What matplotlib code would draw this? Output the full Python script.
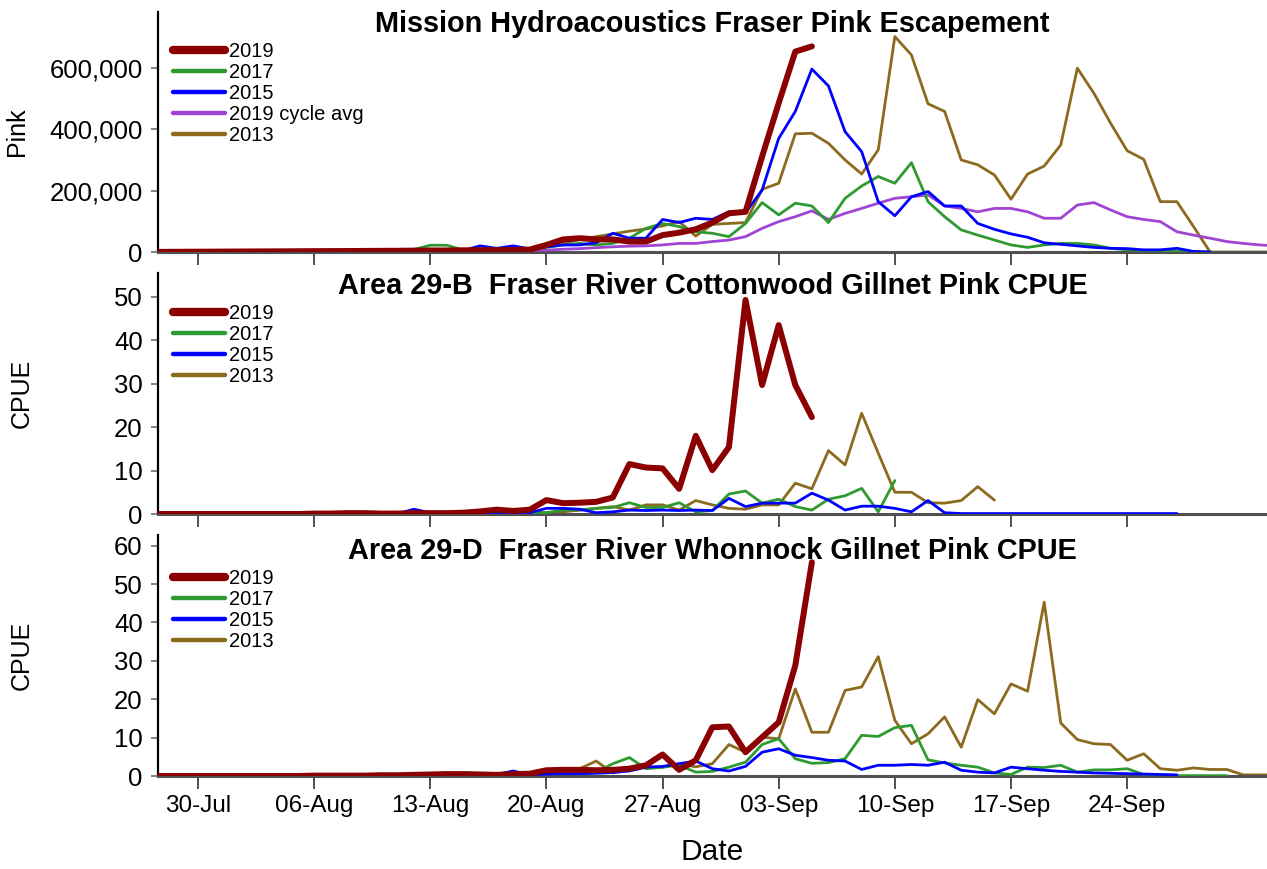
import numpy as np
import matplotlib
matplotlib.use("Agg")
import matplotlib.pyplot as plt
import matplotlib.dates as mdates
from matplotlib.lines import Line2D
from matplotlib.ticker import FuncFormatter, MultipleLocator

plt.rcParams['font.family'] = ['Liberation Sans', 'DejaVu Sans']

# ---------------- data (daily values, one list per series, with start date) -------------
# Panel 1: Mission hydroacoustics escapement (fish)
esc_2019_start = '2019-07-27'
esc_2019 = [0, 500, 800, 1000, 1200,
            1500, 1800, 2000, 2200, 2500, 2800, 3000, 3200, 3500, 3800, 4000, 4500, 5000,
            5000, 5500, 6000, 6000, 6500, 8000, 23000, 41000, 45000, 41000, 41000, 34000,
            34000, 55000, 63000, 74000, 96000, 126000,
            131000, 311000, 485000, 653000, 670000]
esc_2017_start = '2019-07-27'
esc_2017 = [1000, 1000, 1500, 1500, 2000,
            2000, 2500, 2500, 3000, 3000, 3500, 4000, 4000, 4500, 5000, 5000,
            8000, 22000, 22000, 6000, 5000, 6000, 7000, 8000, 15000, 23000, 28000, 23000,
            28000, 45000, 77000, 93000, 83000, 66000, 61000, 50000,
            93000, 161000, 121000, 159000, 150000, 96000, 175000, 215000, 246000, 224000,
            291000, 164000, 115000, 72000, 55000, 39000, 23000, 15000, 23000, 28000, 28000,
            23000, 12000, 7000, 5000, 3000, 2000, 1000, 0]
esc_2015_start = '2019-07-27'
esc_2015 = [0, 0, 500, 500, 1000,
            1000, 1000, 1500, 1500, 2000, 2000, 2000, 2500, 2500, 3000, 3000, 3000, 3500,
            4000, 5000,
            20000, 12000, 20000, 10000, 17000, 23000, 23000, 30000, 61000, 45000, 45000,
            106000, 96000, 110000, 106000, 131000,
            128000, 202000, 370000, 458000, 596000, 541000, 392000, 327000, 164000, 118000,
            180000, 197000, 150000, 150000, 93000, 74000, 59000, 48000, 30000, 25000, 20000,
            15000, 12000, 11000, 7000, 7000, 12000, 2000, 0]
esc_avg_start = '2019-07-27'
esc_avg = [0, 0, 0, 500, 500,
           500, 500, 800, 800, 1000, 1000, 1200, 1200, 1500, 1500, 1800, 2000, 2000, 2500,
           2500,
           3000, 4000, 5000, 5000, 6000, 9000, 11000, 14000, 17000, 19000, 20000, 23000,
           28000, 28000, 34000, 39000,
           50000, 77000, 99000, 115000, 134000, 106000, 126000, 142000, 159000, 175000,
           180000, 186000, 150000, 142000, 131000, 142000, 142000, 131000, 110000, 110000,
           153000, 161000, 137000, 115000, 106000, 99000, 66000, 55000, 45000, 34000,
           28000, 23000, 20000]
esc_2013_start = '2019-07-27'
esc_2013 = [0, 0, 500, 500, 500,
            1000, 1000, 1000, 1500, 1500, 1500, 2000, 2000, 2000, 2500, 2500, 3000, 3000,
            3000, 3500, 4000, 4500, 5000,
            8000, 17000, 28000, 41000, 50000, 59000, 68000, 75000, 85000, 99000, 52000,
            90000, 93000,
            96000, 204000, 224000, 385000, 387000, 354000, 300000, 254000, 333000, 702000,
            642000, 483000, 458000, 300000, 284000, 251000, 172000, 254000, 280000, 349000,
            599000, 517000, 420000, 330000, 302000, 164000, 164000, 83000, 0, 0,
            0, 0, 0]

# Panel 2: Area 29-B Cottonwood gillnet CPUE
cot_2019_start = '2019-07-27'
cot_2019 = [0, 0, 0, 0, 0,
            0, 0, 0, 0, 0, 0.1, 0.1, 0.2, 0.2, 0.1, 0.1, 0.2, 0.2, 0.2,
            0.3, 0.6, 1.0, 0.7, 1.0, 3.2, 2.5, 2.6, 2.8, 3.8, 11.5, 10.7, 10.5, 5.8, 18.0,
            10.1, 15.4,
            49.3, 29.7, 43.5, 29.7, 22.3]
cot_2017_start = '2019-08-17'
cot_2017 = [0, 0.2, 0.3, 0.3, 0.9, 0.9, 1.3, 1.5, 2.6, 1.5, 1.5, 2.6, 0.5, 0.8, 4.6,
            5.3, 2.5, 3.4, 1.7, 0.9, 3.4, 4.2, 5.9, 0.5, 7.7]
cot_2015_start = '2019-07-27'
cot_2015 = [0, 0, 0, 0, 0,
            0, 0, 0, 0, 0, 0, 0, 0, 0, 0, 0,
            1.1, 0.3, 0.1, 0.1, 0.2, 0.2, 0.3, 0.3, 1.3, 1.3, 1.1, 0.3, 0.5, 0.9, 0.8, 0.9,
            0.8, 0.9, 0.8, 3.6,
            1.7, 2.5, 2.5, 2.5, 4.8, 3.2, 0.9, 1.8, 1.8, 1.3, 0.5, 3.1, 0.3,
            0.1, 0.1, 0.1, 0.1, 0.1, 0.1, 0.1, 0.1, 0.1, 0.1, 0.1, 0.1, 0.1, 0.1]
cot_2013_start = '2019-08-19'
cot_2013 = [0.3, 0.3, 0.5, 0.9, 1.3, 1.7, 0.9, 2.1, 2.1, 0.9, 3.1, 2.1, 1.3,
            1.1, 2.1, 2.1, 7.1, 5.8, 14.6, 11.3, 23.2, 14.0, 5.0, 5.0, 2.6, 2.5, 3.1, 6.3, 3.2]

# Panel 3: Area 29-D Whonnock gillnet CPUE
who_2019_start = '2019-07-27'
who_2019 = [0, 0, 0, 0, 0,
            0, 0, 0, 0, 0, 0.1, 0.1, 0.1, 0.1, 0.2, 0.2, 0.3,
            0.4, 0.5, 0.5, 0.4, 0.3, 0.5, 0.6, 1.5, 1.6, 1.6, 1.5, 1.6, 1.9, 2.8, 5.6, 1.6,
            4.1, 12.7, 12.9,
            6.2, 10.1, 14.0, 28.8, 55.7]
who_2017_start = '2019-08-17'
who_2017 = [0, 0.3, 0.5, 0.6, 0.6, 0.8, 1.0, 3.2, 4.8, 1.9, 2.3, 2.8, 1.0, 1.2, 2.3,
            3.6, 8.2, 9.7, 4.5, 3.3, 3.5, 4.5, 10.6, 10.3, 12.6, 13.2, 4.2, 3.4, 2.8, 2.3,
            0.8, 0.4, 2.3, 2.2, 2.8, 1.0, 1.6, 1.6, 1.9, 0.4, 0.2, 0.1, 0.1, 0.1, 0.1]
who_2015_start = '2019-07-27'
who_2015 = [0, 0, 0, 0, 0,
            0, 0, 0, 0, 0, 0, 0.1, 0.1, 0.1, 0.1, 0.2, 0.2, 0.2, 0.3, 0.3, 0.3, 0.4,
            1.3, 0.3, 0.5, 0.6, 0.6, 0.7, 0.9, 1.3, 2.3, 2.5, 3.2, 3.9, 1.9, 1.3,
            2.5, 6.2, 7.1, 5.4, 4.8, 4.1, 3.9, 1.7, 2.8, 2.8, 3.0, 2.8, 3.6, 1.5, 1.0, 0.8,
            2.3, 1.9, 1.5, 1.2, 1.0, 0.8, 0.7, 0.6, 0.5, 0.4, 0.3]
who_2013_start = '2019-08-19'
who_2013 = [0.3, 0.8, 1.2, 1.9, 3.9, 0.8, 1.9, 2.3, 2.3, 3.2, 2.4, 3.2, 8.2,
            6.2, 10.1, 9.7, 22.7, 11.4, 11.4, 22.3, 23.2, 31.1, 14.5, 8.4, 11.0, 15.4, 7.5,
            19.9, 16.2, 24.0, 22.1, 45.3, 13.8, 9.5, 8.4, 8.2, 4.1, 5.8, 1.9, 1.5, 2.1, 1.7,
            1.7, 0.3, 0.3, 0.3]

titles = ["Mission Hydroacoustics Fraser Pink Escapement",
          "Area 29-B  Fraser River Cottonwood Gillnet Pink CPUE",
          "Area 29-D  Fraser River Whonnock Gillnet Pink CPUE"]
ylabels = ["Pink", "CPUE", "CPUE"]
tick_dates = ['2019-07-30', '2019-08-06', '2019-08-13', '2019-08-20', '2019-08-27',
              '2019-09-03', '2019-09-10', '2019-09-17', '2019-09-24']

# ---------------- style ----------------
C2019 = '#8B0000'
C2017 = '#2E9A30'
C2015 = '#0000FF'
CAVG = '#A044D4'
C2013 = '#8C6A1E'

def dates_for(start, vals):
    return np.datetime64(start) + np.arange(len(vals)).astype('timedelta64[D]')

W, H = 1267, 869
fig = plt.figure(figsize=(W / 100, H / 100), dpi=100)

def add_ax(top_px, bottom_px):
    return fig.add_axes([158 / W, 1 - bottom_px / H, (W - 158) / W, (bottom_px - top_px) / H])

ax1 = add_ax(12, 252)
ax2 = add_ax(273, 514)
ax3 = add_ax(535, 776)

ref = mdates.date2num(np.datetime64('2019-07-30'))
xmin, xmax = ref - 2.41, ref + 64.43

def plot_series(ax, series):
    for start, vals, color, lw, z in series:
        ax.plot(dates_for(start, vals), vals, color=color, lw=lw, zorder=z,
                solid_joinstyle='round', solid_capstyle='round')

plot_series(ax1, [(esc_2013_start, esc_2013, C2013, 2.0, 2),
                  (esc_avg_start, esc_avg, CAVG, 2.0, 3),
                  (esc_2017_start, esc_2017, C2017, 2.0, 4),
                  (esc_2015_start, esc_2015, C2015, 2.0, 5),
                  (esc_2019_start, esc_2019, C2019, 4.3, 6)])
plot_series(ax2, [(cot_2013_start, cot_2013, C2013, 2.0, 2),
                  (cot_2015_start, cot_2015, C2015, 2.0, 4),
                  (cot_2017_start, cot_2017, C2017, 2.0, 3),
                  (cot_2019_start, cot_2019, C2019, 4.3, 6)])
plot_series(ax3, [(who_2013_start, who_2013, C2013, 2.0, 2),
                  (who_2017_start, who_2017, C2017, 2.0, 3),
                  (who_2015_start, who_2015, C2015, 2.0, 4),
                  (who_2019_start, who_2019, C2019, 4.3, 6)])

ylims = [(0, 782000), (0, 55.5), (0, 62.8)]
title_y = [0.915, 0.913, 0.902]
leg_y = [0.876, 0.872, 0.859]
ylab_x = [-0.127, -0.123, -0.123]

ticks = [mdates.date2num(np.datetime64(d)) for d in tick_dates]

for i, ax in enumerate([ax1, ax2, ax3]):
    ax.set_xlim(xmin, xmax)
    ax.set_ylim(*ylims[i])
    ax.spines['top'].set_visible(False)
    ax.spines['right'].set_visible(False)
    ax.spines['left'].set_color('black')
    ax.spines['left'].set_linewidth(1.6)
    ax.spines['bottom'].set_color('#505050')
    ax.spines['bottom'].set_linewidth(2.2)
    ax.set_xticks(ticks)
    ax.xaxis.set_major_formatter(mdates.DateFormatter('%d-%b'))
    ax.tick_params(axis='x', direction='out', length=9, width=1.4, color='#505050',
                   labelsize=17.5, pad=5)
    ax.tick_params(axis='y', direction='out', length=5, width=1.2, color='#707070',
                   labelsize=18.5, pad=6)
    if i < 2:
        ax.tick_params(axis='x', labelbottom=False)
    ax.text(0.5, title_y[i], titles[i], transform=ax.transAxes, ha='center',
            va='baseline', fontsize=20.8, fontweight='bold', clip_on=False)
    ax.set_ylabel(ylabels[i], fontsize=18, va='center')
    ax.yaxis.set_label_coords(ylab_x[i], 0.5)

ax1.yaxis.set_major_locator(MultipleLocator(200000))
ax1.yaxis.set_major_formatter(FuncFormatter(lambda v, p: f"{int(v):,}"))
ax2.yaxis.set_major_locator(MultipleLocator(10))
ax3.yaxis.set_major_locator(MultipleLocator(10))

def handles(with_avg):
    h = [Line2D([], [], color=C2019, lw=6.0, solid_capstyle='round', label='2019'),
         Line2D([], [], color=C2017, lw=3.2, solid_capstyle='round', label='2017'),
         Line2D([], [], color=C2015, lw=3.2, solid_capstyle='round', label='2015')]
    if with_avg:
        h.append(Line2D([], [], color=CAVG, lw=3.2, solid_capstyle='round',
                        label='2019 cycle avg'))
    h.append(Line2D([], [], color=C2013, lw=3.2, solid_capstyle='round', label='2013'))
    return h

for i, ax in enumerate([ax1, ax2, ax3]):
    ax.legend(handles=handles(i == 0), loc='upper left', bbox_to_anchor=(0.0135, leg_y[i]),
              frameon=False, fontsize=14.5, labelspacing=0.1, handlelength=2.6,
              handletextpad=0.17, borderpad=0, borderaxespad=0)

fig.text(712 / W, 1 - 852 / H, 'Date', ha='center', va='center', fontsize=21.5)

fig.savefig('out.png', dpi=100)
